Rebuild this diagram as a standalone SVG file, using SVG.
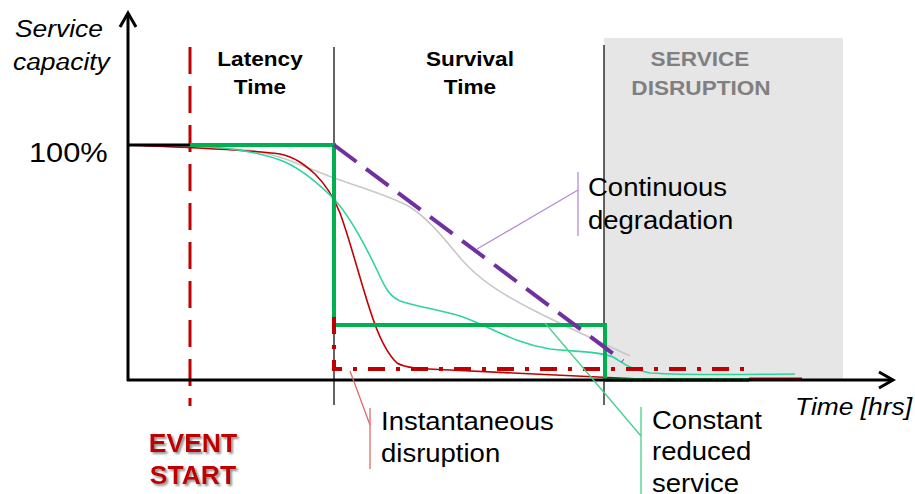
<svg xmlns="http://www.w3.org/2000/svg" width="915" height="494" viewBox="0 0 915 494">
  <defs>
    <style>
      .t{font-family:"Liberation Sans",Arial,sans-serif;fill:#000}
      .it{font-style:italic;font-size:24px}
      .big{font-size:25px}
      .hdr{font-size:20px;font-weight:bold;text-anchor:middle}
      .grey{fill:#808080}
      .ev{font-size:25px;font-weight:bold;text-anchor:middle;fill:#c00000}
      .axis{fill:none;stroke:#000;stroke-width:3}
      .phase{fill:none;stroke:#222;stroke-width:1.4}
      .curve{fill:none;stroke-width:1.6}
      .call{fill:none;stroke-width:1.3}
    </style>
    <marker id="arrow" markerUnits="userSpaceOnUse" markerWidth="24" markerHeight="24" viewBox="-18 -12 24 24" refX="0" refY="0" orient="auto">
      <path d="M-14,-8 L0,0 L-14,8" fill="none" stroke="#000" stroke-width="3" stroke-linejoin="miter"/>
    </marker>
    <filter id="shadow" x="-10%" y="-20%" width="130%" height="150%">
      <feDropShadow dx="2" dy="2" stdDeviation="1" flood-color="#777" flood-opacity="0.8"/>
    </filter>
  </defs>

  <!-- disruption zone backdrop -->
  <g id="disruption-zone">
    <rect x="604" y="38" width="239" height="342" fill="#e6e6e6"/>
  </g>

  <!-- phase boundaries -->
  <g id="phase-lines">
    <line class="phase" x1="334" y1="47" x2="334" y2="405"/>
    <line class="phase" x1="604" y1="45" x2="604" y2="405"/>
    <line x1="190" y1="47" x2="190" y2="406" stroke="#c00000" stroke-width="3" stroke-dasharray="27 12"/>
  </g>

  <!-- capacity curves -->
  <g id="curves">
    <path class="curve" stroke="#c8c8c8" d="M128,145 C180,146 225,147 255,151 C280,155 300,165 334,178 C365,189 390,196 410,207 C430,220 445,240 462,260 C480,280 500,293 533,310 C560,324 600,342 630,356"/>
    <path class="curve" stroke="#c00000" d="M128,145 C170,147 240,149 280,154 C295,157 305,165 315,174 C325,184 333,195 340,213 C350,240 360,280 370,310 C377,332 385,352 397,363 C405,368 420,369 450,370 C520,373 580,376 640,379"/>
    <path class="curve" stroke="#2dd3a0" d="M190,146 C230,147 260,152 285,162 C305,171 322,187 334,199 C350,216 365,245 377,270 C385,288 390,298 403,302 C420,307 440,310 460,316 C490,326 510,342 550,349 C575,352 600,351 613,357 C622,362 628,369 650,373 C700,376 760,374 795,374"/>
  </g>

  <!-- scenario lines -->
  <g id="scenarios">
    <line x1="128" y1="145" x2="190" y2="145" stroke="#000" stroke-width="3"/>
    <path d="M190,145 L334,145 L334,325 L605,325 L605,380 L749,380" fill="none" stroke="#00b050" stroke-width="4"/>
    <line x1="749" y1="379" x2="802" y2="379" stroke="#c00000" stroke-width="3"/>
    <path d="M334,317 L334,369 L749,369" fill="none" stroke="#c00000" stroke-width="4" stroke-dasharray="17 11 4 11"/>
    <line x1="334" y1="145" x2="623" y2="361" stroke="#7030a0" stroke-width="4" stroke-dasharray="28 12"/>
  </g>

  <!-- axes -->
  <g id="axes">
    <path class="axis" d="M128,381 L128,13" marker-end="url(#arrow)"/>
    <path class="axis" d="M127,380 L893,380" marker-end="url(#arrow)"/>
  </g>

  <!-- callout leaders -->
  <g id="connectors">
    <polyline class="call" stroke="#b58bd6" points="477,249 578,190"/>
    <line class="call" stroke="#b58bd6" x1="578" y1="172" x2="578" y2="236"/>
    <polyline class="call" stroke="#e06a6a" points="350,371 370,425"/>
    <line class="call" stroke="#e06a6a" x1="370" y1="408" x2="370" y2="469"/>
    <polyline class="call" stroke="#45d08a" points="545,323 641,436"/>
    <line class="call" stroke="#45d08a" x1="641" y1="407" x2="641" y2="494"/>
  </g>

  <!-- axis labels -->
  <g id="y-label">
    <text class="t it" transform="translate(15,37) scale(1.1,1)">Service</text>
    <text class="t it" transform="translate(13,70) scale(1.1,1)">capacity</text>
  </g>
  <g id="full-capacity">
    <text class="t" font-size="28" transform="translate(29,162) scale(1.1,1)">100%</text>
  </g>
  <g id="x-label">
    <text class="t it" transform="translate(795,415) scale(1.1,1)">Time [hrs]</text>
  </g>

  <!-- phase headers -->
  <g id="latency-time">
    <text class="t hdr" transform="translate(260,66) scale(1.13,1)">Latency</text>
    <text class="t hdr" transform="translate(260,94) scale(1.13,1)">Time</text>
  </g>
  <g id="survival-time">
    <text class="t hdr" transform="translate(470,66) scale(1.13,1)">Survival</text>
    <text class="t hdr" transform="translate(470,94) scale(1.13,1)">Time</text>
  </g>
  <g id="service-disruption">
    <text class="t hdr grey" transform="translate(700,66) scale(1.13,1)">SERVICE</text>
    <text class="t hdr grey" transform="translate(701,95) scale(1.13,1)">DISRUPTION</text>
  </g>

  <!-- event marker -->
  <g id="event-start" filter="url(#shadow)">
    <text class="t ev" transform="translate(193,452) scale(1.06,1)">EVENT</text>
    <text class="t ev" transform="translate(193,484) scale(1.06,1)">START</text>
  </g>

  <!-- scenario labels -->
  <g id="continuous-degradation">
    <text class="t big" transform="translate(588,196) scale(1.1,1)">Continuous</text>
    <text class="t big" transform="translate(588,229) scale(1.1,1)">degradation</text>
  </g>
  <g id="instantaneous-disruption">
    <text class="t big" transform="translate(381,430) scale(1.1,1)">Instantaneous</text>
    <text class="t big" transform="translate(381,462) scale(1.1,1)">disruption</text>
  </g>
  <g id="constant-reduced-service">
    <text class="t big" transform="translate(652,429) scale(1.1,1)">Constant</text>
    <text class="t big" transform="translate(652,460) scale(1.1,1)">reduced</text>
    <text class="t big" transform="translate(652,492) scale(1.1,1)">service</text>
  </g>
</svg>
